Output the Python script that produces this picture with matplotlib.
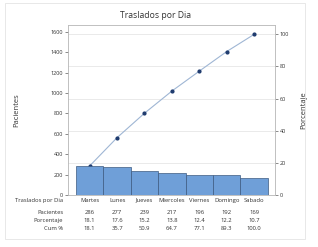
import matplotlib
matplotlib.use("Agg")
import matplotlib.pyplot as plt
from matplotlib.patches import Rectangle
import numpy as np

plt.rcParams['font.family'] = ['Open Sans', 'DejaVu Sans']

dias = ["Martes", "Lunes", "Jueves", "Miercoles", "Viernes", "Domingo", "Sabado"]
pacientes = [286, 277, 239, 217, 196, 192, 169]
porcentaje = [18.1, 17.6, 15.2, 13.8, 12.4, 12.2, 10.7]
cum_pct = [18.1, 35.7, 50.9, 64.7, 77.1, 89.3, 100.0]
left_ticks = [0, 200, 400, 600, 800, 1000, 1200, 1400, 1600]
right_ticks = [0, 20, 40, 60, 80, 100]

W, H = 318, 247
fig = plt.figure(figsize=(W/100, H/100), dpi=100)
fig.patches.append(Rectangle((5/W, 8/H), 300/W, 236/H, transform=fig.transFigure,
                             fill=False, edgecolor='#e4e4e4', lw=0.6))

ax = fig.add_axes([68/W, 1-195/H, 207/W, 170/H])
total = sum(pacientes)
rmax = 105.8
ax.set_ylim(0, total*rmax/100)
x = np.arange(len(dias))
ax.bar(x, pacientes, width=1.0, color='#6f9fd8', edgecolor='#3c5a80', lw=0.5, zorder=3)
ax.set_xlim(-0.79, 6.76)
ax.set_xticks([])
ax.set_yticks(left_ticks)
ax.tick_params(axis='y', labelsize=4, length=2, width=0.4, pad=1.5, colors='#333333')
for s in ax.spines.values():
    s.set_color('#bbbbbb'); s.set_linewidth(0.5)
ax.set_ylabel("Pacientes", fontsize=5.5, color='#333333', labelpad=22)

ax2 = ax.twinx()
ax2.set_ylim(0, rmax)
ax2.set_yticks(right_ticks)
ax2.tick_params(axis='y', labelsize=4, length=2, width=0.4, pad=1.5, colors='#333333')
for t in right_ticks[1:]:
    ax2.axhline(t, color='#e6e6e6', lw=0.6, zorder=0)
ax2.plot(x, cum_pct, color='#9fb6d4', lw=0.8, zorder=4)
ax2.plot(x, cum_pct, 'o', color='#1f3b6e', ms=2.0, zorder=5)
for s in ax2.spines.values():
    s.set_color('#bbbbbb'); s.set_linewidth(0.5)
ax2.set_ylabel("Porcentaje", fontsize=5.5, color='#333333', labelpad=8)
ax.set_zorder(ax2.get_zorder()+1)
ax.patch.set_visible(False)

fig.text(155/W, 1-15/H, "Traslados por Dia", fontsize=6.2, ha='center', va='center', color='#333333')

rows = [("Traslados por Dia", dias, 200), ("Pacientes", [str(v) for v in pacientes], 212),
        ("Porcentaje", [f"{v:.1f}" for v in porcentaje], 220), ("Cum %", [f"{v:.1f}" for v in cum_pct], 228)]
for label, vals, ypx in rows:
    yf = 1-ypx/H
    fig.text(63/W, yf, label, fontsize=4.2, ha='right', va='center', color='#333333')
    for i, v in enumerate(vals):
        xd = ax.transData.transform((i, 0))[0]
        xf = fig.transFigure.inverted().transform((xd, 0))[0]
        fig.text(xf, yf, v, fontsize=4.2, ha='center', va='center', color='#333333')

fig.savefig("out.png", dpi=100, facecolor='white')
